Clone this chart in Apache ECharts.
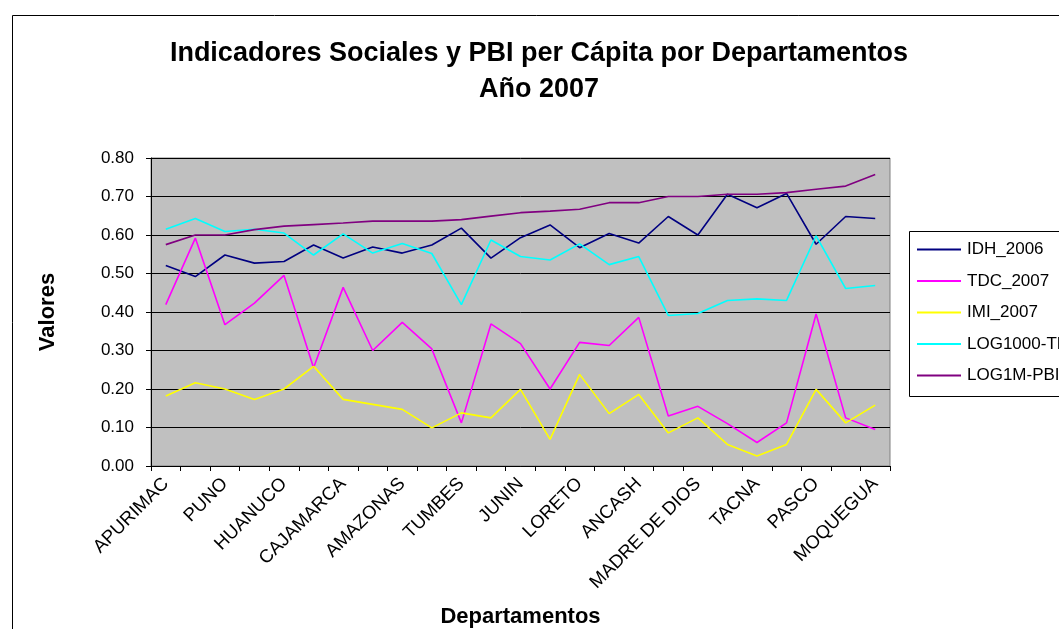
<!DOCTYPE html>
<html>
<head>
<meta charset="utf-8">
<script src="https://cdn.jsdelivr.net/npm/echarts@6/dist/echarts.min.js"></script>
<style>
  html, body { margin: 0; padding: 0; background: #fff; }
  #main { width: 1059px; height: 629px; }
</style>
</head>
<body>
<div id="main"></div>
<script>
// datos
var departamentos = ['APURIMAC', 'HUANCAVELICA', 'PUNO', 'AYACUCHO', 'HUANUCO', 'SAN MARTIN',
  'CAJAMARCA', 'PIURA', 'AMAZONAS', 'LAMBAYEQUE', 'TUMBES', 'CUSCO', 'JUNIN', 'UCAYALI',
  'LORETO', 'LA LIBERTAD', 'ANCASH', 'AREQUIPA', 'MADRE DE DIOS', 'ICA', 'TACNA', 'CALLAO',
  'PASCO', 'LIMA', 'MOQUEGUA'];

var idh2006 = [0.521, 0.492, 0.548, 0.527, 0.531, 0.574, 0.540, 0.569, 0.553, 0.574, 0.618, 0.540,
  0.593, 0.626, 0.567, 0.604, 0.579, 0.648, 0.600, 0.706, 0.671, 0.708, 0.576, 0.648, 0.643];

var tdc2007 = [0.419, 0.592, 0.367, 0.423, 0.495, 0.255, 0.464, 0.300, 0.373, 0.304, 0.112, 0.369,
  0.318, 0.200, 0.321, 0.313, 0.386, 0.130, 0.155, 0.110, 0.061, 0.112, 0.395, 0.125, 0.095];

var imi2007 = [0.182, 0.216, 0.200, 0.173, 0.200, 0.259, 0.173, 0.160, 0.147, 0.099, 0.138, 0.125,
  0.199, 0.069, 0.238, 0.136, 0.186, 0.086, 0.125, 0.056, 0.026, 0.056, 0.199, 0.112, 0.158];

var log1000T = [0.615, 0.643, 0.609, 0.615, 0.605, 0.548, 0.603, 0.553, 0.578, 0.552, 0.419, 0.587,
  0.544, 0.535, 0.577, 0.523, 0.544, 0.391, 0.396, 0.430, 0.434, 0.430, 0.598, 0.461, 0.469];

var log1mPbi = [0.575, 0.600, 0.600, 0.614, 0.623, 0.627, 0.631, 0.636, 0.636, 0.636, 0.640, 0.649,
  0.658, 0.662, 0.667, 0.684, 0.684, 0.700, 0.700, 0.706, 0.706, 0.710, 0.719, 0.727, 0.757];

var yTicks = [0, 0.8, 0.1];

var myChart = echarts.init(document.getElementById('main'));

var fuente = '"Liberation Sans", Arial, sans-serif';

function serie(nombre, datos, color) {
  return {
    name: nombre,
    type: 'line',
    data: datos,
    symbol: 'none',
    lineStyle: { color: color, width: 1.6 },
    itemStyle: { color: color },
    animation: false
  };
}

var option = {
  backgroundColor: '#fff',
  textStyle: { fontFamily: fuente },
  title: {
    text: 'Indicadores Sociales y PBI per Cápita por Departamentos\nAño 2007',
    left: 534,
    top: 31,
    textAlign: 'center',
    textStyle: { fontSize: 27, fontWeight: 'bold', color: '#000', lineHeight: 36, fontFamily: fuente }
  },
  legend: {
    orient: 'vertical',
    left: 912,
    top: 236,
    itemWidth: 44,
    itemHeight: 2,
    itemGap: 14.5,
    icon: 'rect',
    textStyle: { fontSize: 17, color: '#000', fontFamily: fuente, padding: [0, 0, 0, 1] },
    data: ['IDH_2006', 'TDC_2007', 'IMI_2007', 'LOG1000-TMI', 'LOG1M-PBI']
  },
  graphic: [
    { type: 'rect', shape: { x: 12.5, y: 15.5, width: 1100, height: 700 },
      style: { fill: 'none', stroke: '#000', lineWidth: 1 }, z: -1 },
    { type: 'rect', shape: { x: 909.5, y: 231.5, width: 200, height: 165 },
      style: { fill: '#fff', stroke: '#000', lineWidth: 1 }, z: 0 }
  ],
  grid: {
    left: 151,
    right: 169,
    top: 158,
    bottom: 162,
    show: true,
    backgroundColor: '#c0c0c0',
    borderColor: '#808080',
    borderWidth: 1
  },
  xAxis: {
    type: 'category',
    data: departamentos,
    boundaryGap: true,
    name: 'Departamentos',
    nameLocation: 'middle',
    nameGap: 140,
    nameTextStyle: { fontSize: 22, fontWeight: 'bold', color: '#000', fontFamily: fuente },
    axisLine: { lineStyle: { color: '#000', width: 1 } },
    axisTick: { show: true, interval: 0, length: 5, lineStyle: { color: '#000' } },
    axisLabel: { interval: 1, rotate: 45, fontSize: 18.5, color: '#000', margin: 15, fontFamily: fuente },
    splitLine: { show: false }
  },
  yAxis: {
    type: 'value',
    min: yTicks[0],
    max: yTicks[1],
    interval: yTicks[2],
    name: 'Valores',
    nameLocation: 'middle',
    nameGap: 92,
    nameRotate: 90,
    nameTextStyle: { fontSize: 22, fontWeight: 'bold', color: '#000', fontFamily: fuente },
    axisLine: { show: true, lineStyle: { color: '#000', width: 1 } },
    axisTick: { show: true, length: 5, lineStyle: { color: '#000' } },
    axisLabel: {
      fontSize: 17, color: '#000', margin: 17, fontFamily: fuente,
      formatter: function (v) { return v.toFixed(2); }
    },
    splitLine: { show: true, lineStyle: { color: '#000', width: 1 } }
  },
  series: [
    serie('IDH_2006', idh2006, '#000080'),
    serie('TDC_2007', tdc2007, '#ff00ff'),
    serie('IMI_2007', imi2007, '#ffff00'),
    serie('LOG1000-TMI', log1000T, '#00ffff'),
    serie('LOG1M-PBI', log1mPbi, '#800080')
  ]
};

myChart.setOption(option);
</script>
</body>
</html>
